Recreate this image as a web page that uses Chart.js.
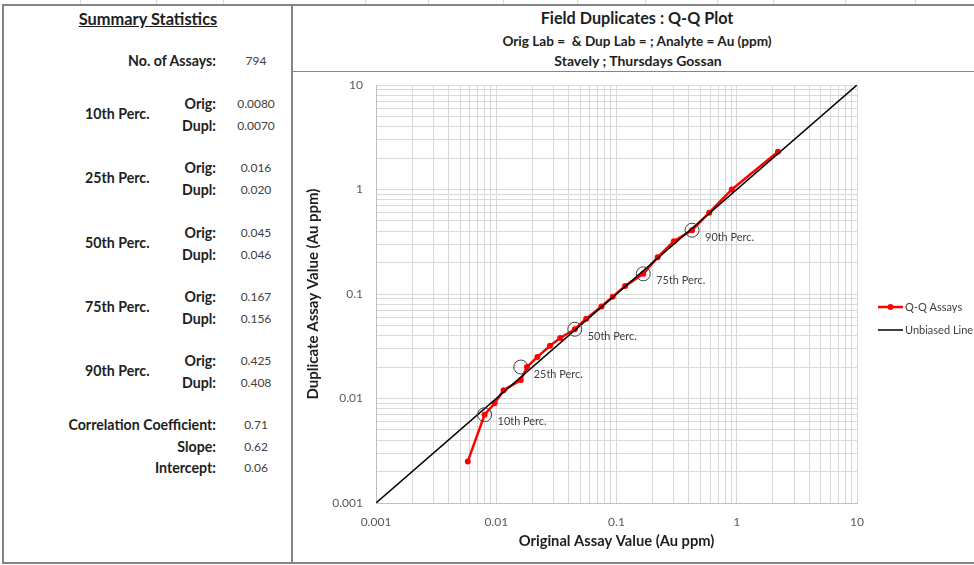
<!DOCTYPE html>
<html>
<head>
<meta charset="utf-8">
<title>Field Duplicates : Q-Q Plot</title>
<script src="https://cdn.jsdelivr.net/npm/chart.js@4.4.0/dist/chart.umd.min.js"></script>
<style>
  body { margin: 0; background: #fff; font-family: Lato, "Open Sans", sans-serif; }
  #sheet { position: relative; width: 974px; height: 565px; overflow: hidden; }
  .frame { position: absolute; box-sizing: border-box; border: 2px solid #858585; }
  .col { position: absolute; top: 0; width: 1px; height: 4px; background: #dcdcdc; }
  .t { position: absolute; white-space: nowrap; height: 18px; line-height: 18px; }
  .b { font-weight: 700; color: #1e1e1e; font-size: 14.2px; }
  .v { color: #404040; font-size: 12px; transform: translateX(-50%); }
  .r { transform: translateX(-100%); }
  .c { transform: translateX(-50%); }
  #chartBox { position: absolute; left: 292px; top: 72px; width: 682px; height: 491px; }
</style>
</head>
<body>
<div id="sheet">
  <div class="frame" style="left:2px; top:4px; width:291px; height:560px;"></div>
  <div class="frame" style="left:291px; top:4px; width:690px; height:560px;"></div>
  <div style="position:absolute; left:292px; top:71px; width:682px; height:1px; background:#858585;"></div>

  <div class="t b c" style="left:148px; top:10px; font-size:16.4px; text-decoration:underline;">Summary Statistics</div>

  <div class="t b c" style="left:637px; top:9px; font-size:16.2px;">Field Duplicates : Q-Q Plot</div>
  <div class="t b c" style="left:637px; top:32px; font-size:13.6px;">Orig Lab =&nbsp; &amp; Dup Lab = ; Analyte = Au (ppm)</div>
  <div class="t b c" style="left:638px; top:52px; font-size:14px;">Stavely ; Thursdays Gossan</div>

  <div id="stats"></div>
  <div id="chartBox"><canvas id="qq" width="682" height="491"></canvas></div>
</div>

<script>
// Q-Q pairs (original vs duplicate, Au ppm)
const origVals = [0.0058, 0.008, 0.0097, 0.0115, 0.016, 0.018, 0.022, 0.028, 0.034, 0.045, 0.056,
                  0.075, 0.093, 0.118, 0.167, 0.22, 0.30, 0.425, 0.59, 0.91, 2.2];
const duplVals = [0.0025, 0.007, 0.009, 0.012, 0.015, 0.020, 0.025, 0.032, 0.038, 0.046, 0.058,
                  0.076, 0.094, 0.119, 0.156, 0.225, 0.32, 0.408, 0.60, 1.0, 2.3];

// percentiles
const pctNames = ['10th Perc.', '25th Perc.', '50th Perc.', '75th Perc.', '90th Perc.'];
const pctOrig = [0.008, 0.016, 0.045, 0.167, 0.425];
const pctDupl = [0.007, 0.020, 0.046, 0.156, 0.408];
const pctOrigText = ['0.0080', '0.016', '0.045', '0.167', '0.425'];
const pctDuplText = ['0.0070', '0.020', '0.046', '0.156', '0.408'];

// other summary rows
const assayCount = '794';
const fitNames = ['Correlation Coefficient:', 'Slope:', 'Intercept:'];
const fitText = ['0.71', '0.62', '0.06'];

// axis ticks
const decades = [0.001, 0.01, 0.1, 1, 10];
const decadeLabels = ['0.001', '0.01', '0.1', '1', '10'];
const unbiased = [0.001, 10];

// spreadsheet column marks along the top edge
[80, 156, 223, 365, 428, 503, 577, 645, 717, 773, 845, 915].forEach(x => {
  const d = document.createElement('div');
  d.className = 'col';
  d.style.left = x + 'px';
  document.getElementById('sheet').appendChild(d);
});

// Summary table
const stats = document.getElementById('stats');
function addText(cls, x, cy, text) {
  const d = document.createElement('div');
  d.className = 't ' + cls;
  d.style.left = x + 'px';
  d.style.top = (cy - 9) + 'px';
  d.textContent = text;
  stats.appendChild(d);
}
addText('b r', 216, 61, 'No. of Assays:');
addText('v', 256, 61, assayCount);
pctNames.forEach((name, i) => {
  const cy = 104 + i * 64.3;
  addText('b', 85, cy + 10, name);
  addText('b r', 216, cy, 'Orig:');
  addText('b r', 216, cy + 22, 'Dupl:');
  addText('v', 256, cy, pctOrigText[i]);
  addText('v', 256, cy + 22, pctDuplText[i]);
});
fitNames.forEach((name, i) => {
  const cy = 425 + i * 21.5;
  addText('b r', 216, cy, name);
  addText('v', 256, cy, fitText[i]);
});

function logTicks() {
  const t = [];
  for (let d = 0; d < decades.length - 1; d++) {
    for (let k = 1; k < 10; k++) t.push({ value: +(decades[d] * k).toPrecision(3) });
  }
  t.push({ value: decades[decades.length - 1] });
  return t;
}
function decadeLabel(v) {
  const i = decades.indexOf(v);
  return i >= 0 ? decadeLabels[i] : '';
}

// text next to the percentile circles
const pctLabels = {
  id: 'pctLabels',
  afterDatasetsDraw(chart) {
    const { ctx, scales: { x, y } } = chart;
    ctx.save();
    ctx.font = '10.9px Lato';
    ctx.fillStyle = '#404040';
    ctx.textBaseline = 'middle';
    pctNames.forEach((n, i) => {
      ctx.fillText(n, x.getPixelForValue(pctOrig[i]) + 13, y.getPixelForValue(pctDupl[i]) + 7);
    });
    ctx.restore();
  }
};

// legend to the right of the plot
const sideLegend = {
  id: 'sideLegend',
  afterDraw(chart) {
    const { ctx, chartArea } = chart;
    const x0 = chartArea.right + 21;
    const cy = (chartArea.top + chartArea.bottom) / 2;
    const items = chart.data.datasets.filter(ds => ds.inLegend);
    ctx.save();
    ctx.font = '11px Lato';
    ctx.textBaseline = 'middle';
    items.forEach((ds, i) => {
      const y = cy + 13 + i * 23;
      ctx.strokeStyle = ds.borderColor;
      ctx.lineWidth = ds.borderWidth;
      ctx.beginPath();
      ctx.moveTo(x0, y);
      ctx.lineTo(x0 + 25, y);
      ctx.stroke();
      if (ds.pointRadius > 0) {
        ctx.fillStyle = ds.pointBackgroundColor;
        ctx.beginPath();
        ctx.arc(x0 + 12.5, y, 3, 0, Math.PI * 2);
        ctx.fill();
      }
      ctx.fillStyle = '#404040';
      ctx.fillText(ds.label, x0 + 27, y);
    });
    ctx.restore();
  }
};

const tickFont = { family: 'Lato', size: 12 };

new Chart(document.getElementById('qq'), {
  type: 'scatter',
  data: {
    datasets: [
      {
        label: 'Q-Q Assays',
        inLegend: true,
        data: origVals.map((v, i) => ({ x: v, y: duplVals[i] })),
        showLine: true,
        borderColor: '#ff0000',
        borderWidth: 2.5,
        pointRadius: 3,
        pointBackgroundColor: '#ff0000',
        pointBorderWidth: 0,
        order: 2
      },
      {
        label: 'Unbiased Line',
        inLegend: true,
        data: unbiased.map(v => ({ x: v, y: v })),
        showLine: true,
        borderColor: '#000000',
        borderWidth: 1.5,
        pointRadius: 0,
        order: 1
      },
      {
        label: 'Percentiles',
        data: pctOrig.map((v, i) => ({ x: v, y: pctDupl[i] })),
        showLine: false,
        pointRadius: 7,
        pointBackgroundColor: 'rgba(0,0,0,0)',
        pointBorderColor: '#404040',
        pointBorderWidth: 1,
        order: 0
      }
    ]
  },
  options: {
    responsive: false,
    animation: false,
    layout: { padding: { left: 0, right: 117, top: 13, bottom: 0 } },
    plugins: { legend: { display: false }, tooltip: { enabled: false } },
    scales: {
      x: {
        type: 'logarithmic',
        min: 0.001,
        max: 10,
        afterBuildTicks: s => { s.ticks = logTicks(); },
        afterFit: s => { s.height = 60; },
        grid: { color: '#d9d9d9', drawTicks: false },
        border: { color: '#bfbfbf' },
        ticks: { autoSkip: false, maxRotation: 0, padding: 12, color: '#595959', font: tickFont, callback: decadeLabel },
        title: { display: true, text: 'Original Assay Value (Au ppm)', color: '#1e1e1e',
                 font: { family: 'Lato', size: 14.7, weight: 'bold' }, padding: { top: 0, bottom: 13 } }
      },
      y: {
        type: 'logarithmic',
        min: 0.001,
        max: 10,
        afterBuildTicks: s => { s.ticks = logTicks(); },
        // fixed width, and no extra room above the top tick label
        afterFit: s => { s.width = 84; s.paddingTop = 0; },
        grid: { color: '#d9d9d9', drawTicks: false },
        border: { color: '#bfbfbf' },
        ticks: { autoSkip: false, padding: 13, color: '#595959', font: tickFont, callback: decadeLabel },
        title: { display: true, text: 'Duplicate Assay Value (Au ppm)', color: '#1e1e1e',
                 font: { family: 'Lato', size: 15, weight: 'bold' }, padding: { top: 12, bottom: 0 } }
      }
    }
  },
  plugins: [pctLabels, sideLegend]
});
</script>
</body>
</html>
